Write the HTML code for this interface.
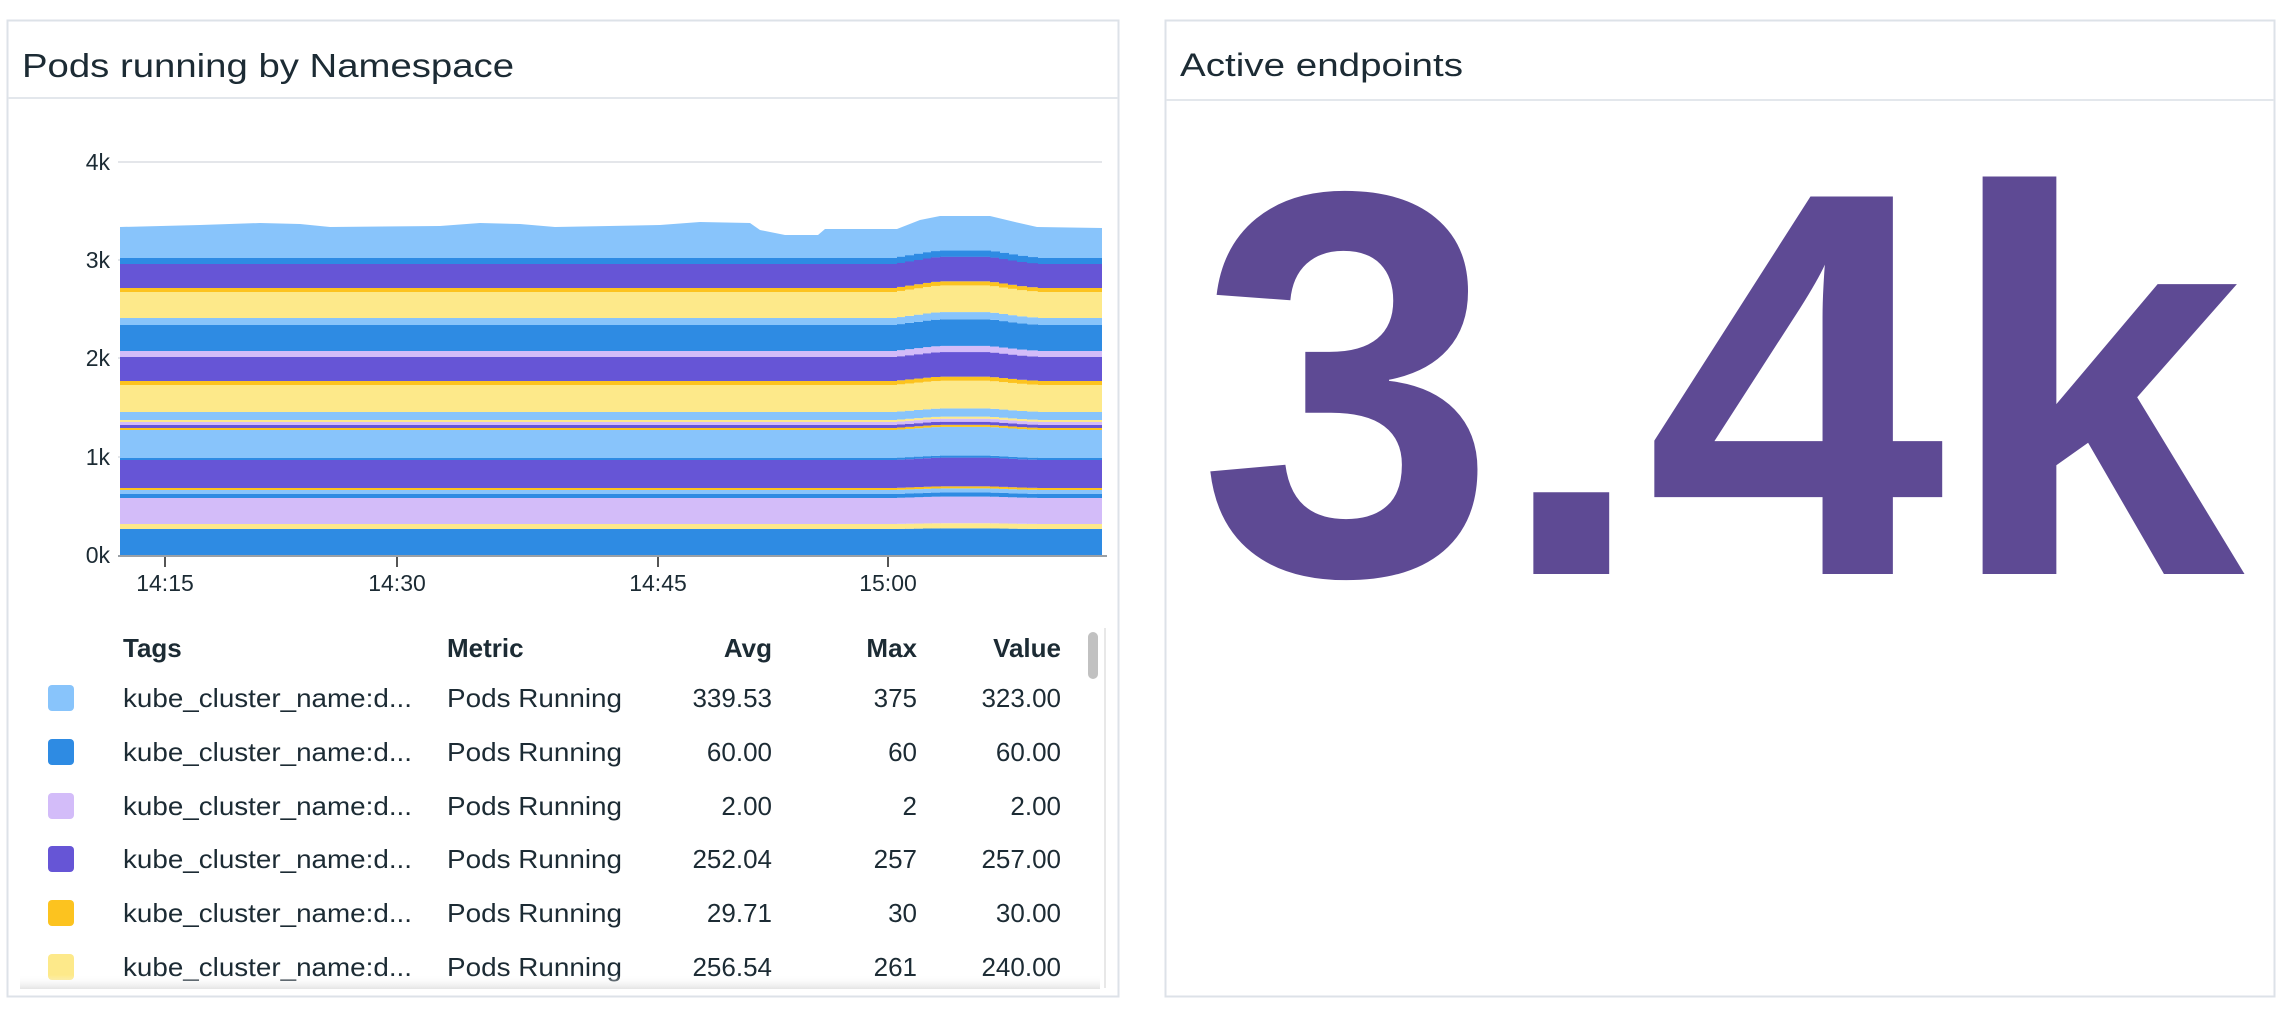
<!DOCTYPE html>
<html><head><meta charset="utf-8"><style>html,body{margin:0;padding:0;background:#fff;}svg{display:block}</style></head>
<body>
<svg width="2289" height="1013" viewBox="0 0 2289 1013" xmlns="http://www.w3.org/2000/svg" font-family="'Liberation Sans', sans-serif">
<defs>
<g id="stack">
<rect x="120" y="529" width="990" height="27" fill="#2e8be3"/>
<rect x="120" y="524" width="990" height="5" fill="#fde98a"/>
<rect x="120" y="498" width="990" height="26" fill="#d3bcf9"/>
<rect x="120" y="494" width="990" height="4" fill="#2e8be3"/>
<rect x="120" y="490" width="990" height="4" fill="#88c4fb"/>
<rect x="120" y="488" width="990" height="2" fill="#fcc31f"/>
<rect x="120" y="460" width="990" height="28" fill="#6655d6"/>
<rect x="120" y="458" width="990" height="2" fill="#2e8be3"/>
<rect x="120" y="430" width="990" height="28" fill="#88c4fb"/>
<rect x="120" y="428" width="990" height="2" fill="#fcc31f"/>
<rect x="120" y="425" width="990" height="3" fill="#6655d6"/>
<rect x="120" y="422" width="990" height="3" fill="#d3bcf9"/>
<rect x="120" y="420" width="990" height="2" fill="#fde98a"/>
<rect x="120" y="412" width="990" height="8" fill="#88c4fb"/>
<rect x="120" y="385" width="990" height="27" fill="#fde98a"/>
<rect x="120" y="381" width="990" height="4" fill="#fcc31f"/>
<rect x="120" y="357" width="990" height="24" fill="#6655d6"/>
<rect x="120" y="351" width="990" height="6" fill="#d3bcf9"/>
<rect x="120" y="325" width="990" height="26" fill="#2e8be3"/>
<rect x="120" y="318" width="990" height="7" fill="#88c4fb"/>
<rect x="120" y="292" width="990" height="26" fill="#fde98a"/>
<rect x="120" y="288" width="990" height="4" fill="#fcc31f"/>
<rect x="120" y="264" width="990" height="24" fill="#6655d6"/>
<rect x="120" y="258" width="990" height="6" fill="#2e8be3"/>
</g>
<clipPath id="c0"><rect x="120" y="0" width="777" height="600"/><rect x="1037" y="0" width="65" height="600"/></clipPath>
<clipPath id="r1"><rect x="897" y="0" width="9" height="600"/></clipPath>
<clipPath id="r2"><rect x="905" y="0" width="10" height="600"/></clipPath>
<clipPath id="r3"><rect x="914" y="0" width="10" height="600"/></clipPath>
<clipPath id="r4"><rect x="923" y="0" width="9" height="600"/></clipPath>
<clipPath id="r5"><rect x="931" y="0" width="10" height="600"/></clipPath>
<clipPath id="mid"><rect x="940" y="0" width="51" height="600"/></clipPath>
<clipPath id="f1"><rect x="990" y="0" width="10" height="600"/></clipPath>
<clipPath id="f2"><rect x="999" y="0" width="10" height="600"/></clipPath>
<clipPath id="f3"><rect x="1008" y="0" width="10" height="600"/></clipPath>
<clipPath id="f4"><rect x="1017" y="0" width="11" height="600"/></clipPath>
<clipPath id="f5"><rect x="1027" y="0" width="11" height="600"/></clipPath>
</defs>
<!-- panels -->
<rect x="7.5" y="20.5" width="1111" height="976" fill="#fff" stroke="#dde2e8" stroke-width="2"/>
<line x1="8" y1="98" x2="1118" y2="98" stroke="#e3e7ec" stroke-width="2"/>
<text x="22" y="77" font-size="33" fill="#1c2b34" textLength="492" lengthAdjust="spacingAndGlyphs">Pods running by Namespace</text>
<rect x="1165.5" y="20.5" width="1109" height="976" fill="#fff" stroke="#dde2e8" stroke-width="2"/>
<line x1="1166" y1="100" x2="2274" y2="100" stroke="#e3e7ec" stroke-width="2"/>
<text x="1180" y="76" font-size="32" fill="#1c2b34" textLength="283" lengthAdjust="spacingAndGlyphs">Active endpoints</text>
<!-- grid -->
<g stroke="#e4e6ea" stroke-width="2">
<line x1="118" y1="162" x2="1104" y2="162"/><line x1="118" y1="260" x2="1104" y2="260"/>
<line x1="118" y1="358" x2="1104" y2="358"/><line x1="118" y1="457" x2="1104" y2="457"/>
</g>
<g font-size="23" fill="#1c2b34" text-anchor="end">
<text x="110" y="170">4k</text><text x="110" y="268">3k</text><text x="110" y="366">2k</text><text x="110" y="465">1k</text><text x="110" y="563">0k</text>
</g>
<!-- area top -->
<path d="M120,227 L200,225 L260,223 L300,224 L330,227 L440,226 L480,223 L520,224 L555,227 L660,225 L700,222 L750,223 L760,230 L785,235 L818,235 L825,229 L897,229 L920,220 L940,216 L990,216 L1015,222 L1037,227 L1102,228 L1102,262 L120,262 Z" fill="#88c4fb"/>
<path d="M120,258 L760,258 L765,265 L818,265 L825,258 L1102,258 L1102,266 L120,266 Z" fill="#2e8be3"/>
<g clip-path="url(#c0)"><use href="#stack"/></g>
<g clip-path="url(#r1)"><g transform="translate(0,555) scale(1,1.004) translate(0,-555)"><use href="#stack"/></g></g>
<g clip-path="url(#r2)"><g transform="translate(0,555) scale(1,1.009) translate(0,-555)"><use href="#stack"/></g></g>
<g clip-path="url(#r3)"><g transform="translate(0,555) scale(1,1.014) translate(0,-555)"><use href="#stack"/></g></g>
<g clip-path="url(#r4)"><g transform="translate(0,555) scale(1,1.019) translate(0,-555)"><use href="#stack"/></g></g>
<g clip-path="url(#r5)"><g transform="translate(0,555) scale(1,1.023) translate(0,-555)"><use href="#stack"/></g></g>
<g clip-path="url(#mid)"><g transform="translate(0,555) scale(1,1.025) translate(0,-555)"><use href="#stack"/></g></g>
<g clip-path="url(#f1)"><g transform="translate(0,555) scale(1,1.022) translate(0,-555)"><use href="#stack"/></g></g>
<g clip-path="url(#f2)"><g transform="translate(0,555) scale(1,1.017) translate(0,-555)"><use href="#stack"/></g></g>
<g clip-path="url(#f3)"><g transform="translate(0,555) scale(1,1.012) translate(0,-555)"><use href="#stack"/></g></g>
<g clip-path="url(#f4)"><g transform="translate(0,555) scale(1,1.007) translate(0,-555)"><use href="#stack"/></g></g>
<g clip-path="url(#f5)"><g transform="translate(0,555) scale(1,1.003) translate(0,-555)"><use href="#stack"/></g></g>
<rect x="1102" y="150" width="10" height="410" fill="#fff"/>
<!-- axis -->
<line x1="118" y1="556" x2="1107" y2="556" stroke="#9aa0a6" stroke-width="2"/>
<g stroke="#555" stroke-width="2">
<line x1="165" y1="557" x2="165" y2="567"/><line x1="397" y1="557" x2="397" y2="567"/>
<line x1="658" y1="557" x2="658" y2="567"/><line x1="888" y1="557" x2="888" y2="567"/>
</g>
<g font-size="23" fill="#1c2b34" text-anchor="middle">
<text x="165" y="591">14:15</text><text x="397" y="591">14:30</text><text x="658" y="591">14:45</text><text x="888" y="591">15:00</text>
</g>
<!-- table -->
<g font-size="26" fill="#1c2b34" font-weight="bold">
<text x="123" y="657">Tags</text><text x="447" y="657">Metric</text>
<text x="772" y="657" text-anchor="end">Avg</text><text x="917" y="657" text-anchor="end">Max</text><text x="1061" y="657" text-anchor="end">Value</text>
</g>
<g font-size="26" fill="#1c2b34">
<rect x="48" y="685" width="26" height="26" rx="4" fill="#88c4fb"/>
<text x="123" y="707" textLength="289" lengthAdjust="spacingAndGlyphs">kube_cluster_name:d...</text><text x="447" y="707" textLength="175" lengthAdjust="spacingAndGlyphs">Pods Running</text>
<text x="772" y="707" text-anchor="end">339.53</text><text x="917" y="707" text-anchor="end">375</text><text x="1061" y="707" text-anchor="end">323.00</text>
<rect x="48" y="739" width="26" height="26" rx="4" fill="#2e8be3"/>
<text x="123" y="761" textLength="289" lengthAdjust="spacingAndGlyphs">kube_cluster_name:d...</text><text x="447" y="761" textLength="175" lengthAdjust="spacingAndGlyphs">Pods Running</text>
<text x="772" y="761" text-anchor="end">60.00</text><text x="917" y="761" text-anchor="end">60</text><text x="1061" y="761" text-anchor="end">60.00</text>
<rect x="48" y="793" width="26" height="26" rx="4" fill="#d3bcf9"/>
<text x="123" y="815" textLength="289" lengthAdjust="spacingAndGlyphs">kube_cluster_name:d...</text><text x="447" y="815" textLength="175" lengthAdjust="spacingAndGlyphs">Pods Running</text>
<text x="772" y="815" text-anchor="end">2.00</text><text x="917" y="815" text-anchor="end">2</text><text x="1061" y="815" text-anchor="end">2.00</text>
<rect x="48" y="846" width="26" height="26" rx="4" fill="#6655d6"/>
<text x="123" y="868" textLength="289" lengthAdjust="spacingAndGlyphs">kube_cluster_name:d...</text><text x="447" y="868" textLength="175" lengthAdjust="spacingAndGlyphs">Pods Running</text>
<text x="772" y="868" text-anchor="end">252.04</text><text x="917" y="868" text-anchor="end">257</text><text x="1061" y="868" text-anchor="end">257.00</text>
<rect x="48" y="900" width="26" height="26" rx="4" fill="#fcc31f"/>
<text x="123" y="922" textLength="289" lengthAdjust="spacingAndGlyphs">kube_cluster_name:d...</text><text x="447" y="922" textLength="175" lengthAdjust="spacingAndGlyphs">Pods Running</text>
<text x="772" y="922" text-anchor="end">29.71</text><text x="917" y="922" text-anchor="end">30</text><text x="1061" y="922" text-anchor="end">30.00</text>
<rect x="48" y="954" width="26" height="26" rx="4" fill="#fde98a"/>
<text x="123" y="976" textLength="289" lengthAdjust="spacingAndGlyphs">kube_cluster_name:d...</text><text x="447" y="976" textLength="175" lengthAdjust="spacingAndGlyphs">Pods Running</text>
<text x="772" y="976" text-anchor="end">256.54</text><text x="917" y="976" text-anchor="end">261</text><text x="1061" y="976" text-anchor="end">240.00</text>
</g>
<linearGradient id="fade" x1="0" y1="0" x2="0" y2="1"><stop offset="0" stop-color="#fff" stop-opacity="0"/><stop offset="1" stop-color="#ddd" stop-opacity="0.8"/></linearGradient>
<rect x="20" y="975" width="1080" height="14" fill="url(#fade)"/>
<line x1="1105" y1="628" x2="1105" y2="988" stroke="#e8e8e8" stroke-width="2"/>
<rect x="1088" y="632" width="10" height="47" rx="5" fill="#c1c1c1"/>
<!-- big number -->
<g transform="translate(0,574) scale(1,1.055) translate(0,-574)">
<text x="1198" y="574" font-size="520" font-weight="bold" fill="#5e4a94" textLength="1046" lengthAdjust="spacingAndGlyphs">3.4k</text>
</g>
</svg>
</body></html>
